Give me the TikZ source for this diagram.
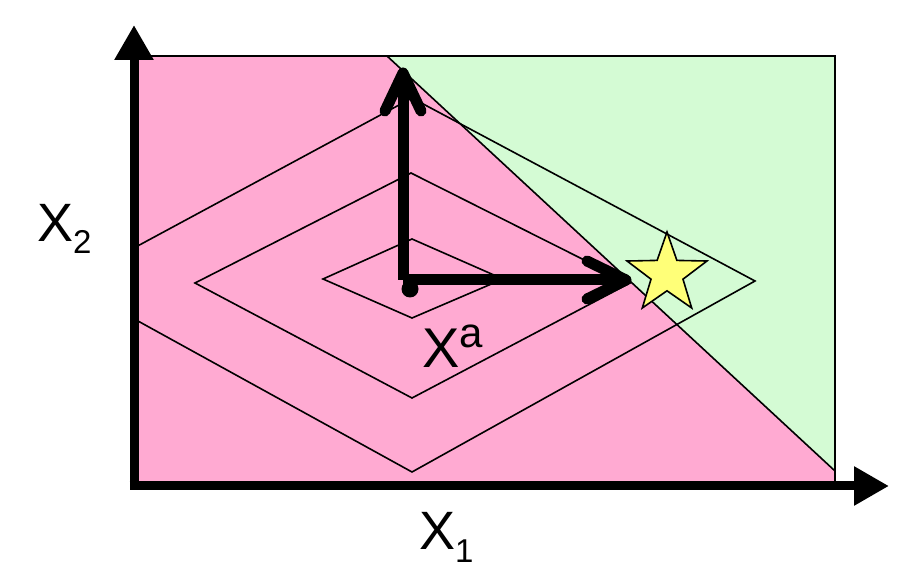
\documentclass[tikz,border=0pt]{standalone}
\usepackage{fontspec}
\setmainfont{Liberation Sans}
\usetikzlibrary{arrows.meta,shapes.geometric}
\definecolor{regionpink}{RGB}{255,170,210}
\definecolor{regiongreen}{RGB}{212,251,212}
\definecolor{staryellow}{RGB}{255,255,120}

\begin{document}
\begin{tikzpicture}[x=1pt,y=-1pt,
    axis/.style={line width=9pt,-{Triangle[length=35pt,width=37pt]}},
    vec/.style={line width=11pt},
    barb/.style={line width=11pt,line cap=round,line join=round},
    contour/.style={line width=1.6pt},
    lbl/.style={inner sep=0pt,anchor=base west,font=\fontsize{54}{54}\selectfont}]
  \useasboundingbox (0,0) rectangle (906,569);
  % regions
  \fill[regionpink] (134,56) -- (387,56) -- (835,471) -- (835,486) -- (134,486) -- cycle;
  \fill[regiongreen] (387,56) -- (835,56) -- (835,471) -- cycle;
  \draw[line width=1.6pt] (134,56) -- (835,56) -- (835,486);
  \draw[line width=1.6pt] (387,56) -- (835,471);
  % level sets
  \begin{scope}
    \clip (134,56) rectangle (835,486);
    \draw[contour] (323,279) -- (412,239) -- (503,279) -- (412,318) -- cycle;
    \draw[contour] (195,283) -- (411,173) -- (630,283) -- (412,398) -- cycle;
    \draw[contour] (69,283) -- (412,98) -- (755,281) -- (412,472) -- cycle;
  \end{scope}
  % optimum
  \node[star,star points=5,star point ratio=2.5,minimum size=84pt,inner sep=0pt,
        draw,line width=1.6pt,fill=staryellow] (opt) at (667,274) {};
  % vectors
  \coordinate (xa) at (403,280);
  \coordinate (e2) at (403,73);
  \coordinate (e1) at (626,280);
  \draw[vec] (xa) -- (e2);
  \draw[vec] (xa) -- (e1);
  \draw[barb] (385,111) -- (e2) -- (421,111);
  \draw[barb] (587,261) -- (e1) -- (587,299);
  \fill (410,289) circle (8.5pt);
  % axes
  \coordinate (origin) at (134,486);
  \coordinate (ytop) at (134,25);
  \coordinate (xend) at (889,486);
  \draw[axis] ([yshift=4.5pt]origin) -- (ytop);
  \draw[axis] ([xshift=-4.5pt]origin) -- (xend);
  % labels
  \node[lbl] (x2) at (37,242) {X\raisebox{-12pt}{\fontsize{33}{33}\selectfont 2}};
  \node[lbl] (x1) at (419,550) {X\raisebox{-13pt}{\fontsize{33}{33}\selectfont 1}};
  \node[lbl,font=\fontsize{56}{56}\selectfont] (xalbl) at (422,368) {X\raisebox{20pt}{\fontsize{42}{42}\selectfont a}};
\end{tikzpicture}
\end{document}
